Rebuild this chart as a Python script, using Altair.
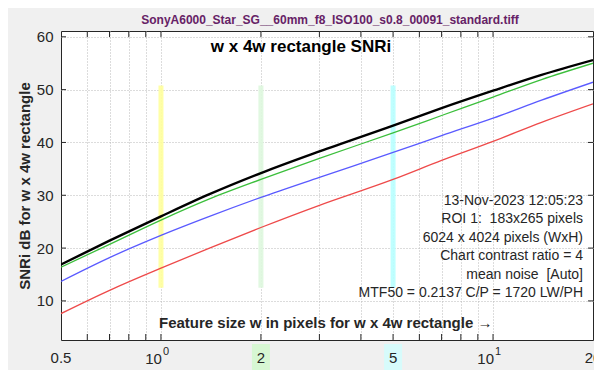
import altair as alt
import pandas as pd

# ---- data ----
feature_w = [0.5, 0.7, 1, 1.4, 2, 3, 5, 7, 10, 14, 20]
snri_black = [16.9, 21.4, 26.0, 30.2, 34.2, 38.3, 43.2, 46.5, 49.8, 52.8, 55.6]
snri_green = [16.4, 20.7, 25.3, 29.3, 33.0, 37.0, 41.8, 45.1, 48.6, 51.9, 55.0]
snri_blue = [13.7, 18.2, 22.4, 26.0, 29.6, 33.4, 38.1, 41.3, 44.6, 48.0, 51.4]
snri_red = [7.6, 12.0, 16.2, 20.0, 23.9, 28.1, 33.0, 36.6, 40.2, 43.8, 47.3]

series_names = ["green", "blue", "red"]
series_colors = ["#3cbf3c", "#5a5aff", "#ee4a4a"]

band_x = [1, 2, 5]
band_lo = [12.5, 12.5, 12.5]
band_hi = [50.8, 50.8, 50.8]
band_colors = ["#ffff9c", "#def7de", "#b8ffff"]

x_grid = [0.6, 0.7, 0.8, 0.9, 1, 2, 3, 4, 5, 6, 7, 8, 9, 10]
y_ticks = [10, 20, 30, 40, 50, 60]

plain_label_vals = [0.5, 2, 5, 20]
plain_label_text = ["0.5", "2", "5", "20"]
pow_label_vals = [1, 10]
pow_label_exp = ["0", "1"]
label_box_vals = [2, 5]
label_box_colors = ["#d7f7d3", "#d7fbfb"]

NB = "\u00a0"
suptitle = "SonyA6000_Star_SG__60mm_f8_ISO100_s0.8_00091_standard.tiff"
inner_title = "w x 4w rectangle SNRi"
x_caption = "Feature size w in pixels for w x 4w rectangle \u2192"
y_title = "SNRi dB for w x 4w rectangle"
info_lines = [
    "13-Nov-2023 12:05:23",
    "ROI 1: " + NB + "183x265 pixels",
    "6024 x 4024 pixels (WxH)",
    "Chart contrast ratio = 4",
    "mean noise " + NB + "[Auto]",
    "MTF50 = 0.2137 C/P = 1720 LW/PH",
]

W, H = 532, 309
FONT = "Liberation Sans"
INK = "#262626"

# ---- tables ----
rows = []
for name, vals in zip(series_names, [snri_green, snri_blue, snri_red]):
    for xv, yv in zip(feature_w, vals):
        rows.append({"w": xv, "snri": yv, "series": name})
df_lines = pd.DataFrame(rows)
df_black = pd.DataFrame({"w": feature_w, "snri": snri_black})
df_band = pd.DataFrame({"w": band_x, "snri": band_lo, "hi": band_hi, "c": band_colors})
df_xt = pd.DataFrame({"w": x_grid})
df_yt = pd.DataFrame({"snri": y_ticks})
df_plain = pd.DataFrame({"w": plain_label_vals, "t": plain_label_text})
df_pow = pd.DataFrame({"w": pow_label_vals, "e": pow_label_exp})
df_box = pd.DataFrame({"w": label_box_vals, "c": label_box_colors})

xscale = alt.Scale(type="log", domain=[0.5, 20], nice=False, padding=0)
yscale = alt.Scale(domain=[2.6, 61.1], nice=False, zero=False, padding=0)

xaxis = alt.Axis(
    values=x_grid, labels=False, ticks=False, domain=False, title=None,
    grid=True, gridDash=[1, 2], gridColor="#b8b8b8", gridWidth=1)
yaxis = alt.Axis(
    values=y_ticks, tickSize=0, domain=False, labelFont=FONT, labelFontSize=15,
    labelColor=INK, labelPadding=8, title=y_title, titleFont=FONT,
    titleFontSize=15, titleFontWeight="bold", titleColor=INK, titlePadding=4,
    grid=True, gridDash=[1, 2], gridColor="#b8b8b8", gridWidth=1)

X = alt.X("w:Q", scale=xscale, axis=xaxis)
Y = alt.Y("snri:Q", scale=yscale, axis=yaxis)

bands = alt.Chart(df_band).mark_rule(strokeWidth=5, opacity=0.9).encode(
    x=X, y=Y, y2="hi:Q",
    color=alt.Color("c:N", scale=None),
)

lines = alt.Chart(df_lines).mark_line(strokeWidth=1.3, clip=True, interpolate="monotone").encode(
    x=X, y=Y,
    color=alt.Color("series:N", scale=alt.Scale(domain=series_names, range=series_colors), legend=None),
)
black = alt.Chart(df_black).mark_line(strokeWidth=2.4, color="#000000", clip=True, interpolate="monotone").encode(
    x=X, y=Y)

bottom_ticks = alt.Chart(df_xt).mark_rule(color=INK, strokeWidth=1).encode(
    x=X, y=alt.value(H), y2=alt.value(H - 6))
top_ticks = alt.Chart(df_xt).mark_rule(color=INK, strokeWidth=1).encode(
    x=X, y=alt.value(0), y2=alt.value(6))
left_ticks = alt.Chart(df_yt).mark_rule(color=INK, strokeWidth=1).encode(
    y=Y, x=alt.value(0), x2=alt.value(5))
right_ticks = alt.Chart(df_yt).mark_rule(color=INK, strokeWidth=1).encode(
    y=Y, x=alt.value(W - 5), x2=alt.value(W))

label_boxes = alt.Chart(df_box).mark_rect(xOffset=-9, x2Offset=9).encode(
    x=X, x2="w:Q",
    y=alt.value(H + 4), y2=alt.value(H + 40),
    color=alt.Color("c:N", scale=None),
)
plain_labels = alt.Chart(df_plain).mark_text(
    font=FONT, fontSize=15, color=INK, align="center", baseline="middle").encode(
    x=X, y=alt.value(H + 18), text="t:N")
pow_base = alt.Chart(df_pow).mark_text(
    font=FONT, fontSize=15, color=INK, align="right", baseline="middle", dx=1).encode(
    x=X, y=alt.value(H + 19), text=alt.value("10"))
pow_exp = alt.Chart(df_pow).mark_text(
    font=FONT, fontSize=11, color=INK, align="left", baseline="middle", dx=2).encode(
    x=X, y=alt.value(H + 12), text="e:N")

sup = alt.Chart(pd.DataFrame({"t": [suptitle]})).mark_text(
    font=FONT, fontSize=12, fontWeight="bold", color="#662266", align="center", baseline="middle").encode(
    x=alt.value(269), y=alt.value(-11), text="t:N")
ititle = alt.Chart(pd.DataFrame({"t": [inner_title]})).mark_text(
    font=FONT, fontSize=17, fontWeight="bold", color="#000000", align="center", baseline="middle").encode(
    x=alt.value(240), y=alt.value(16), text="t:N")
xcap = alt.Chart(pd.DataFrame({"t": [x_caption]})).mark_text(
    font=FONT, fontSize=15, fontWeight="bold", color=INK, align="left", baseline="middle").encode(
    x=alt.value(98), y=alt.value(292), text="t:N")
info = alt.Chart(pd.DataFrame({"t": ["\n".join(info_lines)]})).mark_text(
    font=FONT, fontSize=14, color=INK, align="right", baseline="top",
    lineBreak="\n", lineHeight=18.4).encode(
    x=alt.value(522), y=alt.value(163), text="t:N")

chart = alt.layer(
    bands, lines, black, bottom_ticks, top_ticks, left_ticks, right_ticks,
    label_boxes, plain_labels, pow_base, pow_exp, sup, ititle, xcap, info,
).resolve_scale(color="independent").properties(
    width=W, height=H,
    padding={"left": 53, "top": 23, "right": 1, "bottom": 30},
    autosize=alt.AutoSizeParams(type="none"),
    background="#f0f0f0",
).configure_view(fill="#ffffff", stroke=INK, strokeWidth=1)

chart.save("out.html", embed_options={"renderer": "svg", "actions": False})
